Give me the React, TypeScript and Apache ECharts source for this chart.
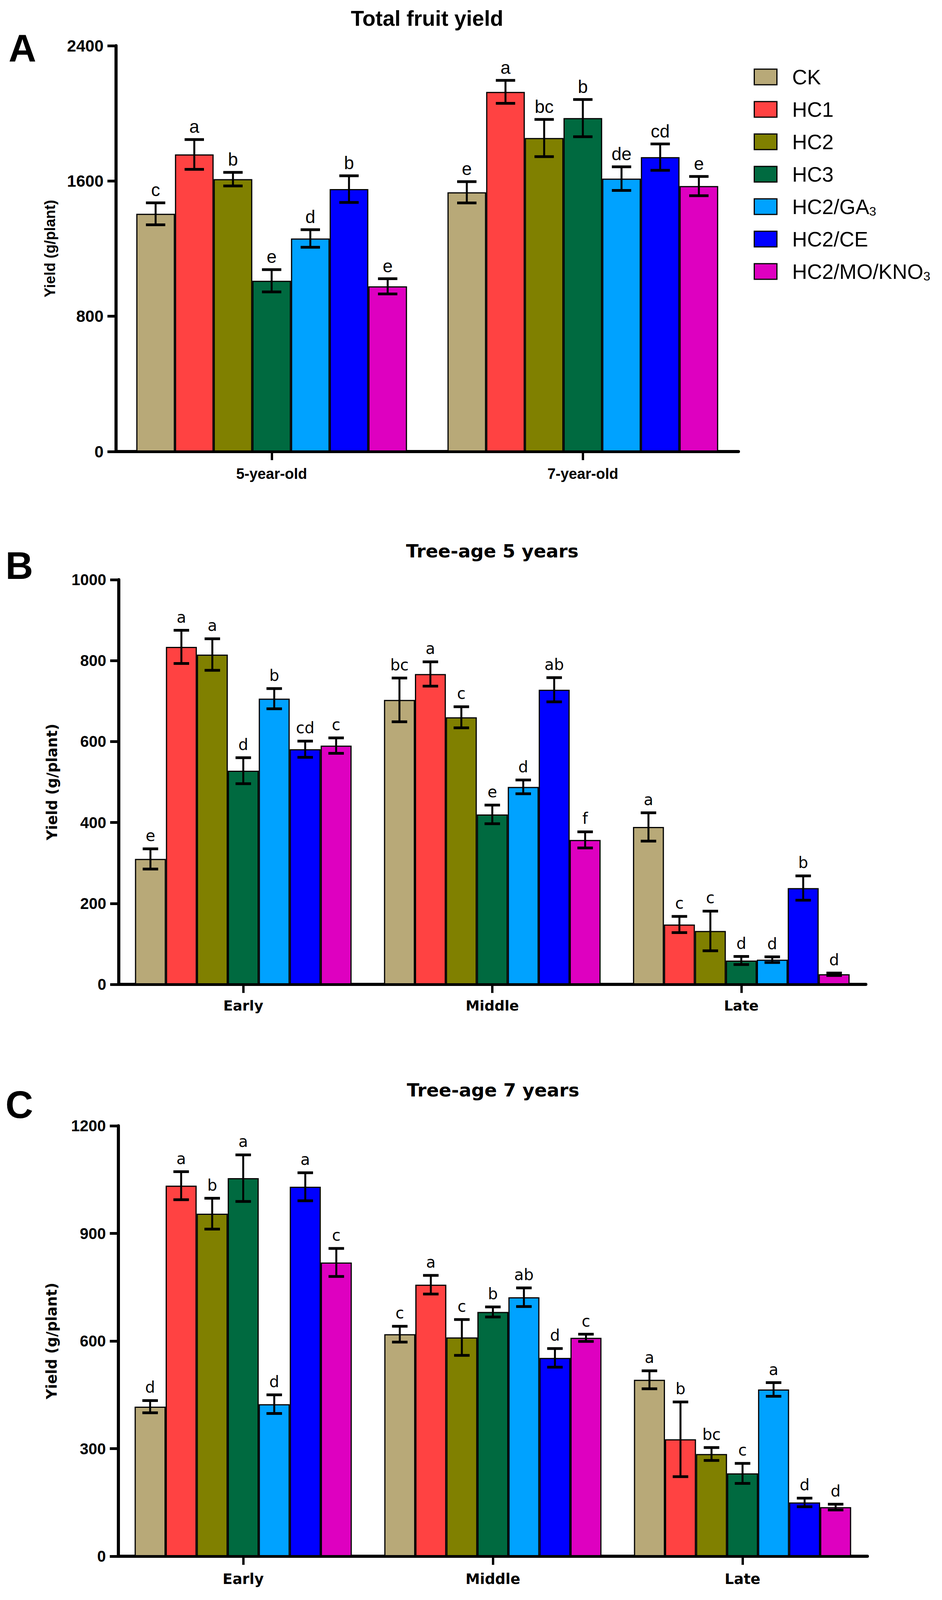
import React, { useEffect, useRef } from 'react';
import * as echarts from 'echarts';

const ARIAL = '"Liberation Sans", Arial, sans-serif';
const VERDANA = '"DejaVu Sans", Verdana, sans-serif';

const treatments = ['CK', 'HC1', 'HC2', 'HC3', 'HC2/GA3', 'HC2/CE', 'HC2/MO/KNO3'];
const treatmentColors = ['#B8A978', '#FF4242', '#808000', '#006A40', '#00A2FF', '#0000FF', '#DE00C0'];

const ageCategories = ['5-year-old', '7-year-old'];
const stageCategories = ['Early', 'Middle', 'Late'];

// Panel A: total fruit yield (rows follow treatments, columns follow ageCategories)
const totalYieldMean = [
  [1406, 1533],
  [1757, 2127],
  [1611, 1854],
  [1010, 1972],
  [1260, 1614],
  [1552, 1741],
  [977, 1570],
];
const totalYieldErr = [
  [65, 63],
  [88, 68],
  [40, 110],
  [66, 110],
  [52, 70],
  [79, 78],
  [45, 57],
];
const totalYieldLetters = [
  ['c', 'e'],
  ['a', 'a'],
  ['b', 'bc'],
  ['e', 'b'],
  ['d', 'de'],
  ['b', 'cd'],
  ['e', 'e'],
];
const totalYieldTicks = [0, 800, 1600, 2400];

// Panel B: tree-age 5 years (columns follow stageCategories)
const age5Mean = [
  [310, 703, 389],
  [834, 767, 148],
  [815, 660, 132],
  [528, 420, 59],
  [706, 488, 61],
  [581, 728, 238],
  [590, 357, 25],
];
const age5Err = [
  [25, 54, 35],
  [41, 30, 20],
  [39, 26, 49],
  [32, 23, 10],
  [25, 17, 7],
  [20, 30, 30],
  [19, 20, 3],
];
const age5Letters = [
  ['e', 'bc', 'a'],
  ['a', 'a', 'c'],
  ['a', 'c', 'c'],
  ['d', 'e', 'd'],
  ['b', 'd', 'd'],
  ['cd', 'ab', 'b'],
  ['c', 'f', 'd'],
];
const age5Ticks = [0, 200, 400, 600, 800, 1000];

// Panel C: tree-age 7 years
const age7Mean = [
  [417, 619, 492],
  [1033, 757, 326],
  [955, 610, 285],
  [1054, 681, 231],
  [424, 722, 465],
  [1030, 553, 150],
  [819, 609, 137],
];
const age7Err = [
  [17, 22, 25],
  [39, 26, 104],
  [43, 50, 18],
  [65, 14, 28],
  [26, 26, 19],
  [39, 26, 12],
  [39, 10, 8],
];
const age7Letters = [
  ['d', 'c', 'a'],
  ['a', 'a', 'b'],
  ['b', 'c', 'bc'],
  ['a', 'b', 'c'],
  ['d', 'ab', 'a'],
  ['a', 'd', 'd'],
  ['c', 'c', 'd'],
];
const age7Ticks = [0, 300, 600, 900, 1200];

const legendLabels: Record<string, string> = {
  'HC2/GA3': 'HC2/GA{sub|3}',
  'HC2/MO/KNO3': 'HC2/MO/KNO{sub|3}',
};

const CATEGORY_GAP = 0.13;

const panels = [
  {
    tag: 'A', tagY: 123,
    title: 'Total fruit yield', titleX: 1093, titleY: 47, titleFont: ARIAL, titleSize: 55,
    cats: ageCategories, mean: totalYieldMean, err: totalYieldErr, letters: totalYieldLetters, ticks: totalYieldTicks,
    grid: { left: 297, top: 117, width: 1593, height: 1039 },
    tickFont: ARIAL, tickSize: 42,
    xFont: ARIAL, xSize: 38, xMargin: 38,
    nameFont: ARIAL, nameSize: 38, nameGap: 150,
    letterFont: ARIAL, letterSize: 46, letterGap: 10,
  },
  {
    tag: 'B', tagY: 1448,
    title: 'Tree-age 5 years', titleX: 1260, titleY: 1410, titleFont: VERDANA, titleSize: 47,
    cats: stageCategories, mean: age5Mean, err: age5Err, letters: age5Letters, ticks: age5Ticks,
    grid: { left: 304, top: 1484, width: 1912, height: 1036 },
    tickFont: ARIAL, tickSize: 40,
    xFont: VERDANA, xSize: 36, xMargin: 36,
    nameFont: VERDANA, nameSize: 37, nameGap: 152,
    letterFont: VERDANA, letterSize: 40, letterGap: 14,
  },
  {
    tag: 'C', tagY: 2828,
    title: 'Tree-age 7 years', titleX: 1262, titleY: 2790, titleFont: VERDANA, titleSize: 47,
    cats: stageCategories, mean: age7Mean, err: age7Err, letters: age7Letters, ticks: age7Ticks,
    grid: { left: 303, top: 2882, width: 1917, height: 1102 },
    tickFont: ARIAL, tickSize: 40,
    xFont: VERDANA, xSize: 37, xMargin: 40,
    nameFont: VERDANA, nameSize: 37, nameGap: 152,
    letterFont: VERDANA, letterSize: 40, letterGap: 14,
  },
];

function textEl(text: string, x: number, y: number, fontFamily: string, fontSize: number, fontWeight: string, align: string) {
  return {
    type: 'text',
    x,
    y,
    silent: true,
    style: {
      text,
      fill: '#000',
      fontFamily,
      fontSize,
      fontWeight,
      textAlign: align,
      textVerticalAlign: 'middle',
      align,
      verticalAlign: 'middle',
    },
  };
}

function buildOption() {
  const grid = panels.map((p) => ({ ...p.grid, containLabel: false }));
  const xAxis = panels.map((p, i) => ({
    type: 'category',
    gridIndex: i,
    data: p.cats,
    boundaryGap: true,
    axisLine: { show: true, lineStyle: { color: '#000', width: 8 } },
    axisTick: { show: true, alignWithLabel: true, length: 22, lineStyle: { color: '#000', width: 6 } },
    axisLabel: { color: '#000', fontFamily: p.xFont, fontWeight: 'bold', fontSize: p.xSize, margin: p.xMargin },
    splitLine: { show: false },
  }));
  const yAxis = panels.map((p, i) => ({
    type: 'value',
    gridIndex: i,
    min: p.ticks[0],
    max: p.ticks[p.ticks.length - 1],
    interval: p.ticks[1] - p.ticks[0],
    axisLine: { show: true, lineStyle: { color: '#000', width: 8 } },
    axisTick: { show: true, length: 22, lineStyle: { color: '#000', width: 7 } },
    axisLabel: {
      color: '#000',
      fontFamily: p.tickFont,
      fontWeight: 'bold',
      fontSize: p.tickSize,
      margin: 32,
      formatter: (v: number) => String(v),
    },
    splitLine: { show: false },
    name: 'Yield (g/plant)',
    nameLocation: 'middle',
    nameRotate: 90,
    nameGap: p.nameGap,
    nameTextStyle: { color: '#000', fontFamily: p.nameFont, fontWeight: 'bold', fontSize: p.nameSize },
  }));

  const series: any[] = [];
  panels.forEach((p, i) => {
    treatments.forEach((name, t) => {
      series.push({
        type: 'bar',
        name,
        xAxisIndex: i,
        yAxisIndex: i,
        data: p.mean[t],
        barGap: '0%',
        barCategoryGap: `${CATEGORY_GAP * 100}%`,
        itemStyle: { color: treatmentColors[t], borderColor: '#000', borderWidth: 3 },
        emphasis: { disabled: true },
        z: 2,
      });
    });
    const items: number[][] = [];
    const letters: string[] = [];
    treatments.forEach((_, t) => {
      p.cats.forEach((__, c) => {
        items.push([c, t, p.mean[t][c], p.err[t][c]]);
        letters.push(p.letters[t][c]);
      });
    });
    series.push({
      type: 'custom',
      name: `errors-${p.tag}`,
      xAxisIndex: i,
      yAxisIndex: i,
      data: items,
      encode: { x: 0, y: 2 },
      clip: false,
      z: 5,
      silent: true,
      renderItem: (params: any, api: any) => {
        const c = api.value(0);
        const t = api.value(1);
        const m = api.value(2);
        const e = api.value(3);
        const base = api.coord([c, 0]);
        const band = api.size([1, 0])[0];
        const groupW = band * (1 - CATEGORY_GAP);
        const bw = groupW / treatments.length;
        const x = base[0] - groupW / 2 + (t + 0.5) * bw;
        const yHi = api.coord([c, m + e])[1];
        const yLo = api.coord([c, m - e])[1];
        const half = bw * 0.25;
        return {
          type: 'group',
          children: [
            { type: 'line', shape: { x1: x, y1: yHi, x2: x, y2: yLo }, style: { stroke: '#000', lineWidth: 5 } },
            { type: 'line', shape: { x1: x - half, y1: yHi, x2: x + half, y2: yHi }, style: { stroke: '#000', lineWidth: 7 } },
            { type: 'line', shape: { x1: x - half, y1: yLo, x2: x + half, y2: yLo }, style: { stroke: '#000', lineWidth: 7 } },
            {
              type: 'text',
              x,
              y: yHi - p.letterGap,
              style: {
                text: letters[params.dataIndex],
                fill: '#000',
                fontFamily: p.letterFont,
                fontSize: p.letterSize,
                textAlign: 'center',
                textVerticalAlign: 'bottom',
                align: 'center',
                verticalAlign: 'bottom',
              },
            },
          ],
        };
      },
    });
  });

  const graphic: any[] = [];
  panels.forEach((p) => {
    graphic.push(textEl(p.title, p.titleX, p.titleY, p.titleFont, p.titleSize, 'bold', 'center'));
    graphic.push(textEl(p.tag, p.tag === 'A' ? 22 : 14, p.tagY, ARIAL, 98, 'bold', 'left'));
  });

  return {
    animation: false,
    backgroundColor: '#ffffff',
    grid,
    xAxis,
    yAxis,
    legend: {
      orient: 'vertical',
      left: 1929,
      top: 169,
      itemWidth: 58,
      itemHeight: 40,
      itemGap: 27,
      padding: 0,
      icon: 'rect',
      selectedMode: false,
      data: treatments,
      itemStyle: { borderColor: '#000', borderWidth: 3 },
      formatter: (name: string) => legendLabels[name] || name,
      textStyle: {
        color: '#000',
        fontFamily: ARIAL,
        fontSize: 53,
        lineHeight: 56,
        padding: [0, 0, 0, 34],
        rich: {
          sub: { fontFamily: ARIAL, fontSize: 32, lineHeight: 56, verticalAlign: 'bottom', color: '#000' },
        },
      },
    },
    graphic,
    series,
  };
}

export default function App() {
  const ref = useRef<HTMLDivElement>(null);
  useEffect(() => {
    if (!ref.current) return;
    const chart = echarts.init(ref.current, null, { renderer: 'svg' });
    chart.setOption(buildOption() as any);
    return () => chart.dispose();
  }, []);
  return (
    <div
      ref={ref}
      style={{ position: 'absolute', left: 0, top: 0, width: 2411, height: 4100, background: '#fff' }}
    />
  );
}
